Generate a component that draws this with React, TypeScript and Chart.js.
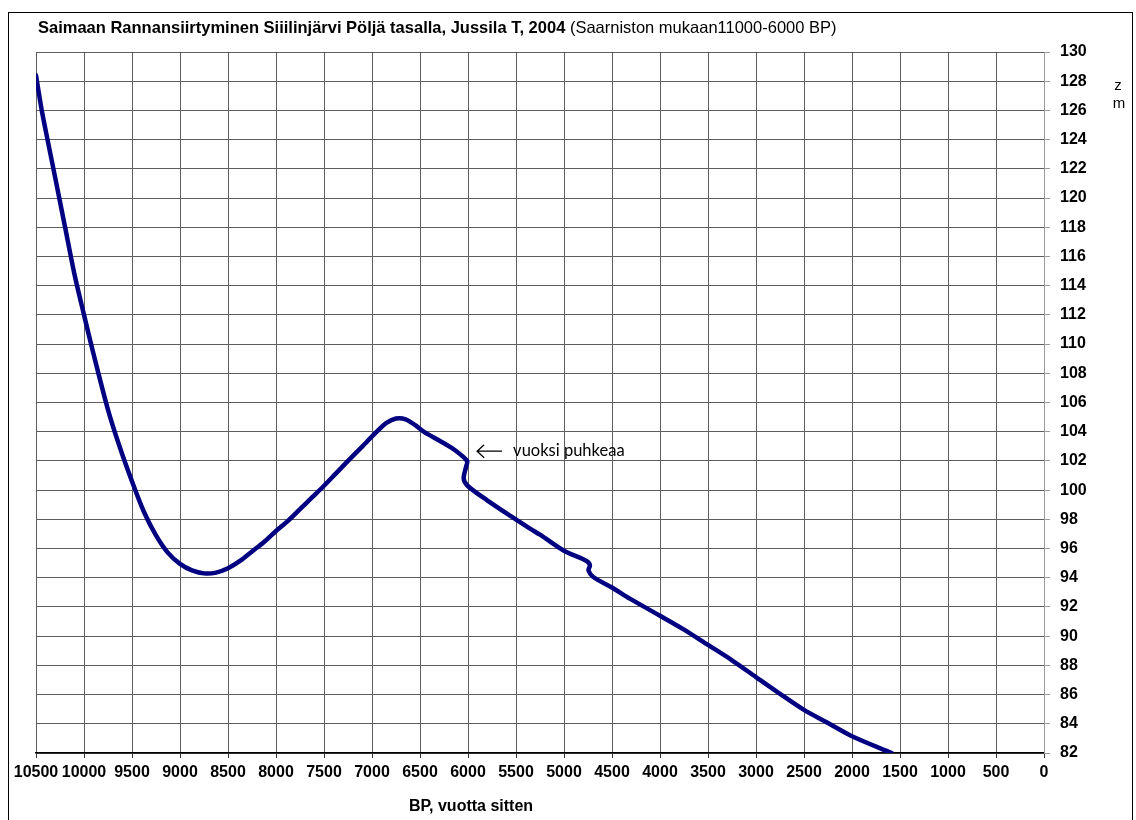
import React, { useEffect, useRef } from "react";
import { Chart, registerables } from "chart.js";

Chart.register(...registerables);

// Years before present (BP) and shore level (m a.s.l.)
const bpYears = [
  10500, 10440, 10380, 10300, 10200, 10100, 10000, 9900, 9750, 9625, 9500, 9375, 9250, 9125,
  9000, 8875, 8750, 8625, 8500, 8375, 8250, 8125, 8000, 7875, 7750, 7625, 7500, 7375, 7250,
  7100, 6950, 6850, 6750, 6650, 6550, 6450, 6300, 6150, 6010, 6020, 6045, 6005, 5800, 5550,
  5350, 5250, 5000, 4765, 4730, 4745, 4695, 4500, 4310, 4000, 3750, 3500, 3250, 3000, 2750,
  2500, 2250, 2000, 1587,
];
const shoreLevel = [
  128.4, 126, 124, 121.4, 118.1, 114.8, 112, 109.3, 105.5, 102.9, 100.6, 98.5, 96.9, 95.7,
  94.95, 94.5, 94.3, 94.35, 94.65, 95.15, 95.8, 96.45, 97.2, 97.9, 98.7, 99.5, 100.3, 101.15,
  102.0, 103.0, 104.0, 104.6, 104.9, 104.85, 104.45, 103.95, 103.4, 102.8, 102.0, 101.6,
  100.8, 100.3, 99.3, 98.2, 97.35, 96.95, 95.85, 95.15, 94.85, 94.5, 94.05, 93.33, 92.55,
  91.4, 90.45, 89.4, 88.35, 87.2, 86.05, 84.95, 84.05, 83.15, 82.0,
];

const titleBold = "Saimaan Rannansiirtyminen Siiilinjärvi Pöljä tasalla, Jussila T, 2004";
const titleNormal = " (Saarniston mukaan11000-6000 BP)";
const xAxisTitle = "BP, vuotta sitten";
const yAxisUnit = ["z", "m"];
const annotationText = "vuoksi puhkeaa";
const annotationAt = { bp: 5530, level: 102.7 };

const W = 1136;
const H = 820;

const decorPlugin = {
  id: "decor",
  beforeDraw(chart: any) {
    const ctx = chart.ctx;
    ctx.save();
    ctx.fillStyle = "#ffffff";
    ctx.fillRect(0, 0, W, H);
    ctx.restore();
  },
  afterDraw(chart: any) {
    const ctx = chart.ctx;
    const xs = chart.scales.x;
    const ys = chart.scales.y;
    ctx.save();
    // outer frame
    ctx.strokeStyle = "#000";
    ctx.lineWidth = 1;
    ctx.strokeRect(8.5, 12.5, 1124, 840);
    // title
    ctx.fillStyle = "#000";
    ctx.textBaseline = "middle";
    ctx.textAlign = "left";
    ctx.font = "bold 16.5px 'Liberation Sans', Arial, sans-serif";
    ctx.fillText(titleBold, 38, 28);
    const wb = ctx.measureText(titleBold).width;
    ctx.font = "16.5px 'Liberation Sans', Arial, sans-serif";
    ctx.fillText(titleNormal, 38 + wb, 28);
    // x axis title
    ctx.font = "bold 16px 'Liberation Sans', Arial, sans-serif";
    ctx.textAlign = "center";
    ctx.fillText(xAxisTitle, 471, 807);
    // unit on right
    ctx.font = "15px 'Liberation Sans', Arial, sans-serif";
    ctx.fillText(yAxisUnit[0], 1118, 86);
    ctx.fillText(yAxisUnit[1], 1119, 104);
    // annotation
    const ax = xs.getPixelForValue(annotationAt.bp);
    const ay = ys.getPixelForValue(annotationAt.level);
    ctx.font = "16.5px Lato, 'Open Sans', sans-serif";
    ctx.textAlign = "left";
    ctx.fillText(annotationText, ax, ay);
    ctx.strokeStyle = "#000";
    ctx.lineWidth = 1.3;
    ctx.beginPath();
    const x0 = ax - 36;
    const x1 = ax - 11;
    ctx.moveTo(x1, ay + 0.5);
    ctx.lineTo(x0, ay + 0.5);
    ctx.moveTo(x0 + 7, ay - 6);
    ctx.lineTo(x0, ay + 0.5);
    ctx.lineTo(x0 + 7, ay + 7);
    ctx.stroke();
    ctx.restore();
  },
};

export default function App() {
  const ref = useRef<HTMLCanvasElement | null>(null);
  useEffect(() => {
    document.body.style.margin = "0";
    const canvas = ref.current!;
    const data = bpYears.map((x, i) => ({ x, y: shoreLevel[i] }));
    const chart = new Chart(canvas, {
      type: "line",
      data: {
        datasets: [
          {
            data,
            borderColor: "#000080",
            borderWidth: 4.5,
            pointRadius: 0,
            tension: 0.3,
            fill: false,
            borderCapStyle: "round",
            borderJoinStyle: "round",
          },
        ],
      },
      options: {
        responsive: false,
        animation: false,
        devicePixelRatio: 1,
        parsing: false,
        layout: { padding: { left: 36, top: 52, right: 0, bottom: 0 } },
        plugins: { legend: { display: false }, tooltip: { enabled: false }, title: { display: false } },
        scales: {
          x: {
            type: "linear",
            reverse: true,
            min: 0,
            max: 10500,
            afterFit(scale: any) {
              scale.height = 67;
            },
            ticks: {
              stepSize: 500,
              autoSkip: false,
              maxRotation: 0,
              padding: 5,
              color: "#000",
              callback: (v: any) => String(v),
              font: { family: "'Liberation Sans', Arial, sans-serif", size: 16, weight: "bold" },
            },
            grid: { color: "#5e5e5e", lineWidth: 1, tickLength: 5, tickColor: "#333" },
            border: { color: "#000", width: 1.5 },
          },
          y: {
            type: "linear",
            position: "right",
            min: 82,
            max: 130,
            afterFit(scale: any) {
              scale.width = 92;
            },
            ticks: {
              stepSize: 2,
              autoSkip: false,
              padding: 10,
              color: "#000",
              callback: (v: any) => String(v),
              font: { family: "'Liberation Sans', Arial, sans-serif", size: 16, weight: "bold" },
            },
            grid: { color: "#5e5e5e", lineWidth: 1, tickLength: 6, tickColor: "#999" },
            border: { color: "#9a9a9a", width: 1 },
          },
        },
      },
      plugins: [decorPlugin],
    } as any);
    return () => chart.destroy();
  }, []);
  return <canvas ref={ref} width={W} height={H} style={{ display: "block" }} />;
}
